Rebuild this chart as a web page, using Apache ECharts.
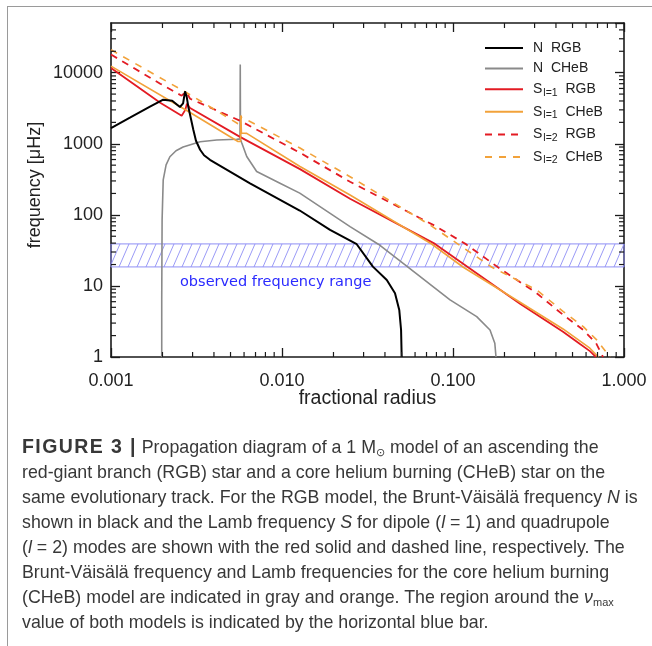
<!DOCTYPE html>
<html>
<head>
<meta charset="utf-8">
<script src="https://cdn.jsdelivr.net/npm/echarts@6/dist/echarts.min.js"></script>
<style>
html,body{margin:0;padding:0;background:#fff;}
#wrap{position:relative;width:652px;height:646px;overflow:hidden;}
#frame{position:absolute;left:7px;top:6px;width:700px;height:700px;border-left:1.5px solid #9a9a9a;border-top:1.5px solid #9a9a9a;}
#chart{position:absolute;left:0;top:0;width:652px;height:646px;}
#caption{position:absolute;left:22px;top:434px;width:630px;font-family:"Liberation Sans",Arial,sans-serif;font-size:17.8px;line-height:25px;color:#383838;white-space:nowrap;}
#caption b{font-weight:bold;font-size:19.5px;letter-spacing:1.4px;}
#caption sub{font-size:11px;vertical-align:-3px;line-height:0;}
</style>
</head>
<body>
<div id="wrap">
<div id="frame"></div>
<div id="chart"></div>
<div id="caption">
<div><b>FIGURE 3 |</b> Propagation diagram of a 1 M<sub>⊙</sub> model of an ascending the</div>
<div>red-giant branch (RGB) star and a core helium burning (CHeB) star on the</div>
<div>same evolutionary track. For the RGB model, the Brunt-Väisälä frequency <i>N</i> is</div>
<div>shown in black and the Lamb frequency <i>S</i> for dipole (<i>l</i> = 1) and quadrupole</div>
<div>(<i>l</i> = 2) modes are shown with the red solid and dashed line, respectively. The</div>
<div>Brunt-Väisälä frequency and Lamb frequencies for the core helium burning</div>
<div>(CHeB) model are indicated in gray and orange. The region around the <i>ν</i><sub>max</sub></div>
<div>value of both models is indicated by the horizontal blue bar.</div>
</div>
</div>
<script>
// ---- data (fractional radius, frequency in microHz) ----
var nRgbR = [0.001, 0.00129, 0.00169, 0.00202, 0.00228, 0.00253, 0.00264, 0.00271, 0.00277, 0.00283, 0.00303, 0.00314, 0.00332, 0.0035, 0.00379, 0.0065, 0.0127, 0.0191, 0.02735, 0.034, 0.041, 0.0458, 0.0485, 0.0497, 0.0501];
var nRgbF = [1664, 2323, 3320, 4168, 4033, 3289, 3700, 5455, 4592, 3352, 1575, 1102, 823, 689, 595, 278, 115, 61.5, 38.6, 18.7, 12.1, 7.9, 4.6, 2.4, 1];

var nCheR = [0.00198, 0.00198, 0.00199, 0.00202, 0.00210, 0.00221, 0.00240, 0.00264, 0.00332, 0.00415, 0.00543, 0.00568, 0.00570, 0.00572, 0.00582, 0.00622, 0.00711, 0.00973, 0.0127, 0.0250, 0.0366, 0.0548, 0.0961, 0.1376, 0.1646, 0.1756, 0.1784];
var nCheF = [1, 6.4, 85, 311, 506, 656, 797, 899, 1067, 1128, 1157, 1170, 13000, 1150, 1024, 662, 407, 279, 202, 68.4, 38.6, 18.3, 6.36, 3.7, 2.4, 1.56, 1];

var s1RgbR = [0.001, 0.00194, 0.00259, 0.00272, 0.00278, 0.00290, 0.00568, 0.01274, 0.0250, 0.0785, 0.1225, 0.2466, 0.44, 0.553, 0.632, 0.686];
var s1RgbF = [11600, 3780, 2478, 3000, 3660, 3185, 1250, 440, 168, 39, 18.3, 5.6, 2.27, 1.52, 1.21, 1];

var s1CheR = [0.001, 0.00290, 0.00553, 0.00572, 0.00575, 0.00579, 0.00622, 0.01274, 0.0250, 0.0750, 0.1149, 0.2466, 0.44, 0.632, 0.708];
var s1CheF = [12390, 2750, 1077, 1080, 2400, 1415, 1400, 479, 190, 38.9, 18.3, 5.9, 2.48, 1.33, 1];

var s2RgbR = [0.001, 0.00194, 0.00259, 0.002746, 0.00290, 0.00568, 0.01274, 0.0250, 0.0785, 0.119, 0.1833, 0.3087, 0.4416, 0.578, 0.686, 0.754];
var s2RgbF = [18000, 7000, 4745, 5400, 4305, 2109, 747, 292, 70, 38.7, 18.3, 7.9, 3.9, 2.4, 1.57, 1];

var s2CheR = [0.001, 0.00290, 0.00553, 0.00570, 0.00575, 0.00581, 0.0065, 0.01274, 0.0250, 0.0734, 0.107, 0.169, 0.3087, 0.4416, 0.578, 0.6925, 0.828];
var s2CheF = [21000, 4900, 1914, 1890, 2500, 2300, 2060, 870, 344, 72, 38.7, 18.3, 8.78, 4.35, 2.67, 1.74, 1];

// observed frequency band
var bandLow = [18.5];
var bandHigh = [39];
var bandLabel = 'observed frequency range';

var xMin = 0.001, xMax = 1.0, yMin = 1, yMax = 50000;
var xMinor = [];
[0.001, 0.01, 0.1].forEach(function (d) { for (var k = 2; k <= 9; k++) xMinor.push(+(k * d).toPrecision(3)); });
var yMinor = [];
[1, 10, 100, 1000, 10000].forEach(function (d) { for (var k = 2; k <= 9; k++) { var v = k * d; if (v < yMax) yMinor.push(v); } });

function zip(a, b) { return a.map(function (v, i) { return [v, b[i]]; }); }

var FONT = '"Liberation Sans", Arial, sans-serif';
var chart = echarts.init(document.getElementById('chart'));

function isPow10(v) { var l = Math.log10(v); return Math.abs(l - Math.round(l)) < 1e-6; }

var axisCommon = {
  type: 'log', logBase: 10,
  axisLine: { show: true, onZero: false, lineStyle: { color: '#1a1a1a', width: 1.6 } },
  axisTick: { show: true, inside: true, length: 9, lineStyle: { color: '#1a1a1a', width: 1.3 } },
  splitLine: { show: false }, minorTick: { show: false }
};

var option = {
  animation: false,
  backgroundColor: 'transparent',
  grid: { left: 111, top: 23, right: 28, bottom: 289, containLabel: false },
  xAxis: [
    Object.assign({}, axisCommon, {
      min: xMin, max: xMax, position: 'bottom',
      axisLabel: { fontFamily: FONT, fontSize: 18, color: '#222', margin: 15,
        formatter: function (v) { return isPow10(v) ? v.toFixed(3) : ''; } }
    }),
    Object.assign({}, axisCommon, { min: xMin, max: xMax, position: 'top', axisLabel: { show: false } })
  ],
  yAxis: [
    Object.assign({}, axisCommon, {
      min: yMin, max: yMax, position: 'left',
      axisLabel: { fontFamily: FONT, fontSize: 18, color: '#222', margin: 8, showMaxLabel: false,
        formatter: function (v) { return isPow10(v) ? String(Math.round(v)) : ''; } }
    }),
    Object.assign({}, axisCommon, { min: yMin, max: yMax, position: 'right', axisLabel: { show: false } })
  ],
  legend: {
    orient: 'vertical', left: 479, top: 36, itemWidth: 38, itemHeight: 12, itemGap: 6.6,
    itemStyle: { opacity: 0 },
    data: ['N RGB', 'N CHeB', 'S1 RGB', 'S1 CHeB', 'S2 RGB', 'S2 CHeB'],
    formatter: function (name) {
      var p = name.split(' ');
      if (p[0] === 'N') return '{m|N  ' + p[1] + '}';
      return '{m|S}{s|l=' + p[0].charAt(1) + '}{m|  ' + p[1] + '}';
    },
    textStyle: {
      fontFamily: FONT, fontSize: 14, color: '#222', padding: [0, 0, 0, 5],
      rich: { m: { fontFamily: FONT, fontSize: 14, color: '#222', lineHeight: 18 },
              s: { fontFamily: FONT, fontSize: 10.5, color: '#222', lineHeight: 10, verticalAlign: 'bottom', padding: [0, 0, 0, 1] } }
    }
  },
  graphic: [
    { type: 'text', left: 180, top: 275, silent: true,
      style: { text: bandLabel, fontFamily: '"DejaVu Sans", sans-serif', fontSize: 14.5, fill: '#2a2aff' } },
    { type: 'text', x: 35, y: 185, rotation: Math.PI / 2, silent: true,
      style: { text: 'frequency [μHz]', fontFamily: FONT, fontSize: 18, fill: '#222', align: 'center', verticalAlign: 'middle' } },
    { type: 'text', x: 367.5, y: 399, silent: true,
      style: { text: 'fractional radius', fontFamily: FONT, fontSize: 19.5, fill: '#222', align: 'center', verticalAlign: 'middle' } }
  ],
  series: [
    { type: 'custom', name: 'band', silent: true, z: 1, xAxisIndex: 0, yAxisIndex: 0,
      data: [[bandLow[0], bandHigh[0]]],
      renderItem: function (params, api) {
        var cs = params.coordSys;
        var yTop = api.coord([xMin, api.value(1)])[1];
        var yBot = api.coord([xMin, api.value(0)])[1];
        var x0 = cs.x, x1 = cs.x + cs.width, h = yBot - yTop;
        var kids = [];
        var col = '#8f8ff5';
        var dx = 10, step = 9;
        for (var xs = x0 - dx; xs < x1; xs += step) {
          var ax = xs, ay = yBot, bx = xs + dx, by = yTop;
          if (ax < x0) { ay = yBot - h * (x0 - xs) / dx; ax = x0; }
          if (bx > x1) { by = yBot - h * (x1 - xs) / dx; bx = x1; }
          if (bx <= ax) continue;
          kids.push({ type: 'line', shape: { x1: ax, y1: ay, x2: bx, y2: by }, style: { stroke: col, lineWidth: 0.9 } });
        }
        kids.push({ type: 'rect', shape: { x: x0, y: yTop, width: x1 - x0, height: h }, style: { fill: 'none', stroke: col, lineWidth: 1 } });
        return { type: 'group', children: kids };
      }
    },
    { type: 'custom', name: 'xminor', silent: true, z: 5, xAxisIndex: 0, yAxisIndex: 0,
      data: xMinor.map(function (v) { return [v]; }),
      renderItem: function (params, api) {
        var cs = params.coordSys, x = api.coord([api.value(0), yMin])[0];
        var st = { stroke: '#1a1a1a', lineWidth: 1.2 };
        return { type: 'group', children: [
          { type: 'line', shape: { x1: x, y1: cs.y + cs.height, x2: x, y2: cs.y + cs.height - 5 }, style: st },
          { type: 'line', shape: { x1: x, y1: cs.y, x2: x, y2: cs.y + 5 }, style: st } ] };
      }
    },
    { type: 'custom', name: 'yminor', silent: true, z: 5, xAxisIndex: 0, yAxisIndex: 0,
      data: yMinor.map(function (v) { return [xMin, v]; }),
      renderItem: function (params, api) {
        var cs = params.coordSys, y = api.coord([xMin, api.value(1)])[1];
        var st = { stroke: '#1a1a1a', lineWidth: 1.2 };
        return { type: 'group', children: [
          { type: 'line', shape: { x1: cs.x, y1: y, x2: cs.x + 5, y2: y }, style: st },
          { type: 'line', shape: { x1: cs.x + cs.width, y1: y, x2: cs.x + cs.width - 5, y2: y }, style: st } ] };
      }
    },
    { type: 'line', name: 'N RGB', data: zip(nRgbR, nRgbF), showSymbol: false, symbol: 'none', z: 4,
      lineStyle: { color: '#000', width: 2 }, itemStyle: { color: '#000' } },
    { type: 'line', name: 'N CHeB', data: zip(nCheR, nCheF), showSymbol: false, symbol: 'none', z: 3,
      lineStyle: { color: '#8a8a8a', width: 1.6 }, itemStyle: { color: '#8a8a8a' } },
    { type: 'line', name: 'S1 RGB', data: zip(s1RgbR, s1RgbF), showSymbol: false, symbol: 'none', z: 3,
      lineStyle: { color: '#e31b23', width: 1.8 }, itemStyle: { color: '#e31b23' } },
    { type: 'line', name: 'S1 CHeB', data: zip(s1CheR, s1CheF), showSymbol: false, symbol: 'none', z: 3,
      lineStyle: { color: '#f2a23a', width: 1.6 }, itemStyle: { color: '#f2a23a' } },
    { type: 'line', name: 'S2 RGB', data: zip(s2RgbR, s2RgbF), showSymbol: false, symbol: 'none', z: 3,
      lineStyle: { color: '#e31b23', width: 1.8, type: [7, 6] }, itemStyle: { color: '#e31b23' } },
    { type: 'line', name: 'S2 CHeB', data: zip(s2CheR, s2CheF), showSymbol: false, symbol: 'none', z: 3,
      lineStyle: { color: '#f2a23a', width: 1.6, type: [7, 7] }, itemStyle: { color: '#f2a23a' } }
  ]
};
chart.setOption(option);
</script>
</body>
</html>
